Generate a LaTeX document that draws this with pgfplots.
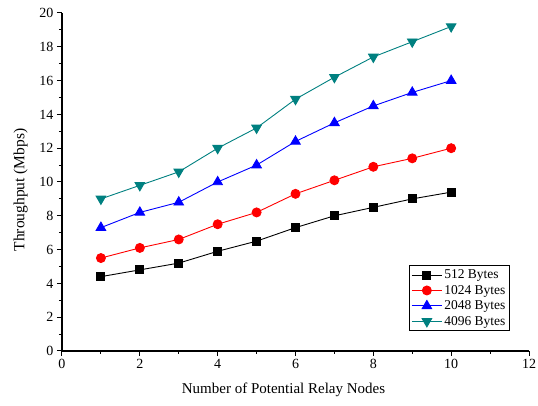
\documentclass[border=0pt]{standalone}
\usepackage{pgfplots}
\pgfplotsset{compat=1.18}
\usepackage{fontspec}
\setmainfont{Liberation Serif}
\definecolor{tealc}{RGB}{0,128,128}
\begin{document}
\begin{tikzpicture}[x=1pt,y=1pt]
\useasboundingbox (-62,-55) rectangle (476,351);
\begin{axis}[
  at={(0,0)}, anchor=south west,
  scale only axis, width=467pt, height=338pt,
  xmin=0, xmax=12, ymin=0, ymax=20,
  axis lines*=left,
  axis line style={line width=1.2pt},
  xtick={0,2,...,12}, ytick={0,2,...,20},
  minor xtick={1,3,...,11}, minor ytick={1,3,...,19},
  tick align=outside,
  major tick length=5pt, minor tick length=3pt,
  every tick/.style={black, line width=1pt},
  /pgf/number format/assume math mode=true,
  ticklabel style={font=\fontsize{14}{14}\selectfont},
  xlabel={Number of Potential Relay Nodes},
  ylabel={Throughput (Mbps)},
  xlabel style={font=\fontsize{15}{15}\selectfont, yshift=-7pt, xshift=-12pt},
  ylabel style={font=\fontsize{15.5}{15.5}\selectfont, yshift=5pt, xshift=-8pt},
  legend style={at={(0.959,0.059)}, anchor=south east, draw=black, line width=0.8pt,
    font=\fontsize{13.5}{13.5}\selectfont, row sep=1pt, inner sep=2pt},
  legend cell align=left,
  legend image code/.code={\draw[#1] (0pt,0pt) -- (30pt,0pt); \draw[#1] plot coordinates {(15pt,0pt)};},
  every axis plot/.append style={line width=0.9pt},
]
\addplot[black, mark=square*, mark size=4pt, mark options={solid}] coordinates {
(1,4.4)(2,4.8)(3,5.2)(4,5.9)(5,6.5)(6,7.3)(7,8.0)(8,8.5)(9,9.0)(10,9.4)};
\addplot[red, mark=*, mark size=4.5pt] coordinates {
(1,5.5)(2,6.1)(3,6.6)(4,7.5)(5,8.2)(6,9.3)(7,10.1)(8,10.9)(9,11.4)(10,12.0)};
\addplot[blue, mark=triangle*, mark size=5.5pt] coordinates {
(1,7.3)(2,8.2)(3,8.8)(4,10.0)(5,11.0)(6,12.4)(7,13.5)(8,14.5)(9,15.3)(10,16.0)};
\addplot[tealc, mark=triangle*, mark size=5.5pt, mark options={rotate=180}] coordinates {
(1,9.0)(2,9.8)(3,10.6)(4,12.0)(5,13.2)(6,14.9)(7,16.2)(8,17.4)(9,18.3)(10,19.2)};
\legend{512 Bytes, 1024 Bytes, 2048 Bytes, 4096 Bytes}
\end{axis}
\end{tikzpicture}
\end{document}
